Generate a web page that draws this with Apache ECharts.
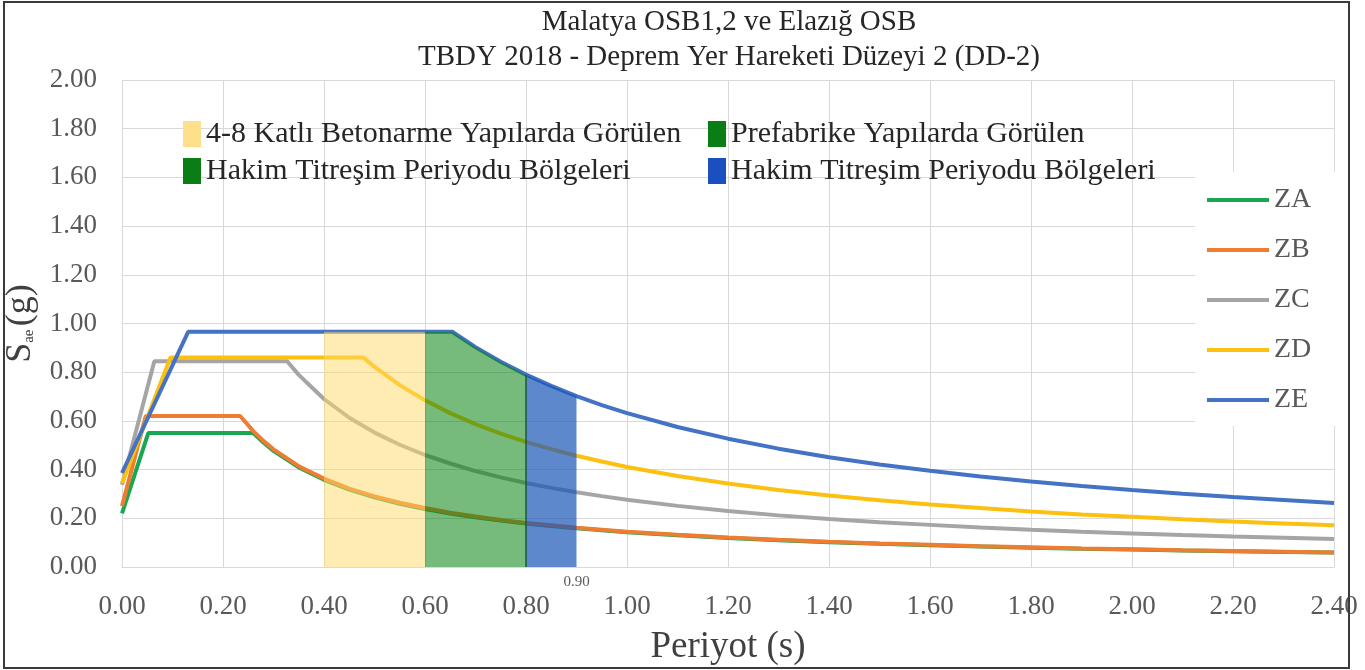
<!DOCTYPE html>
<html>
<head>
<meta charset="utf-8">
<script src="https://cdn.jsdelivr.net/npm/echarts@6/dist/echarts.min.js"></script>
<style>html,body{margin:0;padding:0;background:#fff;}#c{width:1365px;height:670px;}</style>
</head>
<body>
<div id="c"></div>
<script>
// Period values (s) and spectral accelerations Sae (g)
const zaT = [0, 0.052, 0.26, 0.28, 0.30, 0.35, 0.40, 0.45, 0.50, 0.55, 0.60, 0.65, 0.70, 0.75, 0.80, 0.85, 0.90, 0.95, 1.00, 1.10, 1.20, 1.30, 1.40, 1.50, 1.60, 1.70, 1.80, 1.90, 2.00, 2.10, 2.20, 2.30, 2.40];
const zaV = [0.22, 0.55, 0.55, 0.511, 0.477, 0.409, 0.358, 0.318, 0.286, 0.260, 0.238, 0.220, 0.204, 0.191, 0.179, 0.168, 0.159, 0.151, 0.143, 0.130, 0.119, 0.110, 0.102, 0.095, 0.089, 0.084, 0.079, 0.075, 0.072, 0.068, 0.065, 0.062, 0.060];
const zbT = [0, 0.047, 0.234, 0.26, 0.28, 0.30, 0.35, 0.40, 0.45, 0.50, 0.55, 0.60, 0.65, 0.70, 0.75, 0.80, 0.85, 0.90, 0.95, 1.00, 1.10, 1.20, 1.30, 1.40, 1.50, 1.60, 1.70, 1.80, 1.90, 2.00, 2.10, 2.20, 2.30, 2.40];
const zbV = [0.25, 0.62, 0.62, 0.558, 0.518, 0.483, 0.414, 0.363, 0.322, 0.290, 0.264, 0.242, 0.223, 0.207, 0.193, 0.181, 0.171, 0.161, 0.153, 0.145, 0.132, 0.121, 0.112, 0.104, 0.097, 0.091, 0.085, 0.081, 0.076, 0.073, 0.069, 0.066, 0.063, 0.060];
const zcT = [0, 0.064, 0.327, 0.35, 0.40, 0.45, 0.50, 0.55, 0.60, 0.65, 0.70, 0.75, 0.80, 0.85, 0.90, 0.95, 1.00, 1.10, 1.20, 1.30, 1.40, 1.50, 1.60, 1.70, 1.80, 1.90, 2.00, 2.10, 2.20, 2.30, 2.40];
const zcV = [0.338, 0.845, 0.845, 0.789, 0.690, 0.613, 0.552, 0.502, 0.460, 0.425, 0.394, 0.368, 0.345, 0.325, 0.307, 0.291, 0.276, 0.251, 0.230, 0.212, 0.197, 0.184, 0.173, 0.162, 0.153, 0.145, 0.138, 0.131, 0.125, 0.120, 0.115];
const zdT = [0, 0.096, 0.478, 0.50, 0.55, 0.60, 0.65, 0.70, 0.75, 0.80, 0.85, 0.90, 0.95, 1.00, 1.10, 1.20, 1.30, 1.40, 1.50, 1.60, 1.70, 1.80, 1.90, 2.00, 2.10, 2.20, 2.30, 2.40];
const zdV = [0.344, 0.86, 0.86, 0.822, 0.747, 0.685, 0.632, 0.587, 0.548, 0.514, 0.484, 0.457, 0.433, 0.411, 0.374, 0.343, 0.316, 0.294, 0.274, 0.257, 0.242, 0.228, 0.216, 0.206, 0.196, 0.187, 0.179, 0.171];
const zeT = [0, 0.131, 0.654, 0.70, 0.75, 0.80, 0.85, 0.90, 0.95, 1.00, 1.10, 1.20, 1.30, 1.40, 1.50, 1.60, 1.70, 1.80, 1.90, 2.00, 2.10, 2.20, 2.30, 2.40];
const zeV = [0.386, 0.966, 0.966, 0.903, 0.843, 0.790, 0.744, 0.702, 0.665, 0.632, 0.575, 0.527, 0.486, 0.451, 0.421, 0.395, 0.372, 0.351, 0.333, 0.316, 0.301, 0.287, 0.275, 0.263];

// Shaded period bands (top follows ZE curve)
const band1T = [0.40, 0.60];
const band1V = [0.966, 0.966];
const band2T = [0.60, 0.654, 0.70, 0.75, 0.80];
const band2V = [0.966, 0.966, 0.903, 0.843, 0.790];
const band3T = [0.80, 0.85, 0.90];
const band3V = [0.790, 0.744, 0.702];

const seriesNames = ['ZA', 'ZB', 'ZC', 'ZD', 'ZE'];
const seriesColors = ['#1aa753', '#ed7d31', '#a5a5a5', '#fcc010', '#4472c4'];
const bandLegend1 = ['4-8 Katlı Betonarme Yapılarda Görülen', 'Hakim Titreşim Periyodu Bölgeleri'];
const bandLegend2 = ['Prefabrike Yapılarda Görülen', 'Hakim Titreşim Periyodu Bölgeleri'];

const pair = (t, v) => t.map((x, i) => [x, v[i]]);
const allT = [zaT, zbT, zcT, zdT, zeT];
const allV = [zaV, zbV, zcV, zdV, zeV];

const serif = 'Liberation Serif';
const chart = echarts.init(document.getElementById('c'));

const lineSeries = seriesNames.map((n, i) => ({
  name: n, type: 'line', data: pair(allT[i], allV[i]), symbol: 'none', z: 2,
  lineStyle: { color: seriesColors[i], width: 4 }, itemStyle: { color: seriesColors[i] }
}));

const bandSeries = [
  { t: band1T, v: band1V, c: 'rgba(255,217,102,0.5)' },
  { t: band2T, v: band2V, c: 'rgba(6,131,16,0.55)' },
  { t: band3T, v: band3V, c: 'rgba(25,85,182,0.7)' }
].map((b, i) => ({
  type: 'line', data: pair(b.t, b.v), symbol: 'none', silent: true, z: 3,
  lineStyle: { width: 0, opacity: 0 }, areaStyle: { color: b.c, opacity: 1 },
  markLine: i === 2 ? {
    symbol: 'none', silent: true, label: { show: false },
    lineStyle: { color: '#1e5a3a', width: 1.5, type: 'solid' },
    data: [[{ coord: [0.80, 0] }, { coord: [0.80, 0.790] }]]
  } : undefined,
  markPoint: i === 2 ? {
    symbol: 'circle', symbolSize: 0, silent: true,
    data: [{ coord: [0.90, 0], value: '0.90' }],
    label: { show: true, position: 'bottom', distance: 8, formatter: '0.90', fontFamily: serif, fontSize: 15, color: '#595959' }
  } : undefined
}));

const legendGraphics = [];
const sq = (x, y, c) => ({ type: 'rect', z: 50, shape: { x: x, y: y, width: 18, height: 26 }, style: { fill: c } });
const tx = (x, y, s) => ({ type: 'text', z: 50, x: x, y: y, style: { text: s, fontFamily: serif, fontSize: 30, fill: '#262626', verticalAlign: 'middle' } });
legendGraphics.push(sq(183, 121, '#ffe08a'), tx(206, 134, bandLegend1[0]));
legendGraphics.push(sq(183, 158, '#0a7d14'), tx(206, 171, bandLegend1[1]));
legendGraphics.push(sq(708, 121, '#0a7d14'), tx(731, 134, bandLegend2[0]));
legendGraphics.push(sq(708, 158, '#1b4fbf'), tx(731, 171, bandLegend2[1]));
legendGraphics.push({ type: 'rect', shape: { x: 4, y: 2, width: 1345, height: 666 }, style: { fill: 'none', stroke: '#3a3a3a', lineWidth: 2 }, z: 100 });

chart.setOption({
  backgroundColor: '#fff',
  animation: false,
  title: {
    text: 'Malatya OSB1,2 ve Elazığ OSB\nTBDY 2018 - Deprem Yer Hareketi Düzeyi 2 (DD-2)',
    left: 724, top: 0, textAlign: 'center',
    textStyle: { fontFamily: serif, fontSize: 29, fontWeight: 'normal', color: '#262626', lineHeight: 35 }
  },
  grid: { left: 122, right: 31, top: 80, bottom: 103, containLabel: false, outerBoundsMode: 'none' },
  legend: {
    data: seriesNames, orient: 'vertical', left: 1195, top: 172,
    icon: 'rect', itemWidth: 62, itemHeight: 4, itemGap: 22,
    padding: [14, 26, 12, 12], backgroundColor: '#fff',
    textStyle: { fontFamily: serif, fontSize: 28, color: '#595959' }
  },
  xAxis: {
    type: 'value', min: 0, max: 2.4, interval: 0.2,
    name: 'Periyot (s)', nameLocation: 'middle', nameGap: 62,
    nameTextStyle: { fontFamily: serif, fontSize: 37, color: '#404040' },
    axisLine: { show: true, lineStyle: { color: '#d9d9d9' } }, axisTick: { show: false },
    splitLine: { show: true, lineStyle: { color: '#d9d9d9', width: 1 } },
    axisLabel: { fontFamily: serif, fontSize: 27, color: '#595959', margin: 26, formatter: v => v.toFixed(2) }
  },
  yAxis: {
    type: 'value', min: 0, max: 2, interval: 0.2,
    name: '{s|S}{sub|ae} {s|(g)}', nameLocation: 'middle', nameGap: 79, nameRotate: 90,
    nameTextStyle: { rich: {
      s: { fontFamily: serif, fontSize: 36, color: '#404040' },
      sub: { fontFamily: serif, fontSize: 15, color: '#404040', padding: [16, 0, 0, 0] }
    } },
    axisLine: { show: false }, axisTick: { show: false },
    splitLine: { show: true, lineStyle: { color: '#d9d9d9', width: 1 } },
    axisLabel: { fontFamily: serif, fontSize: 27, color: '#595959', margin: 25, formatter: v => v.toFixed(2) }
  },
  graphic: legendGraphics,
  series: lineSeries.concat(bandSeries)
});
</script>
</body>
</html>
